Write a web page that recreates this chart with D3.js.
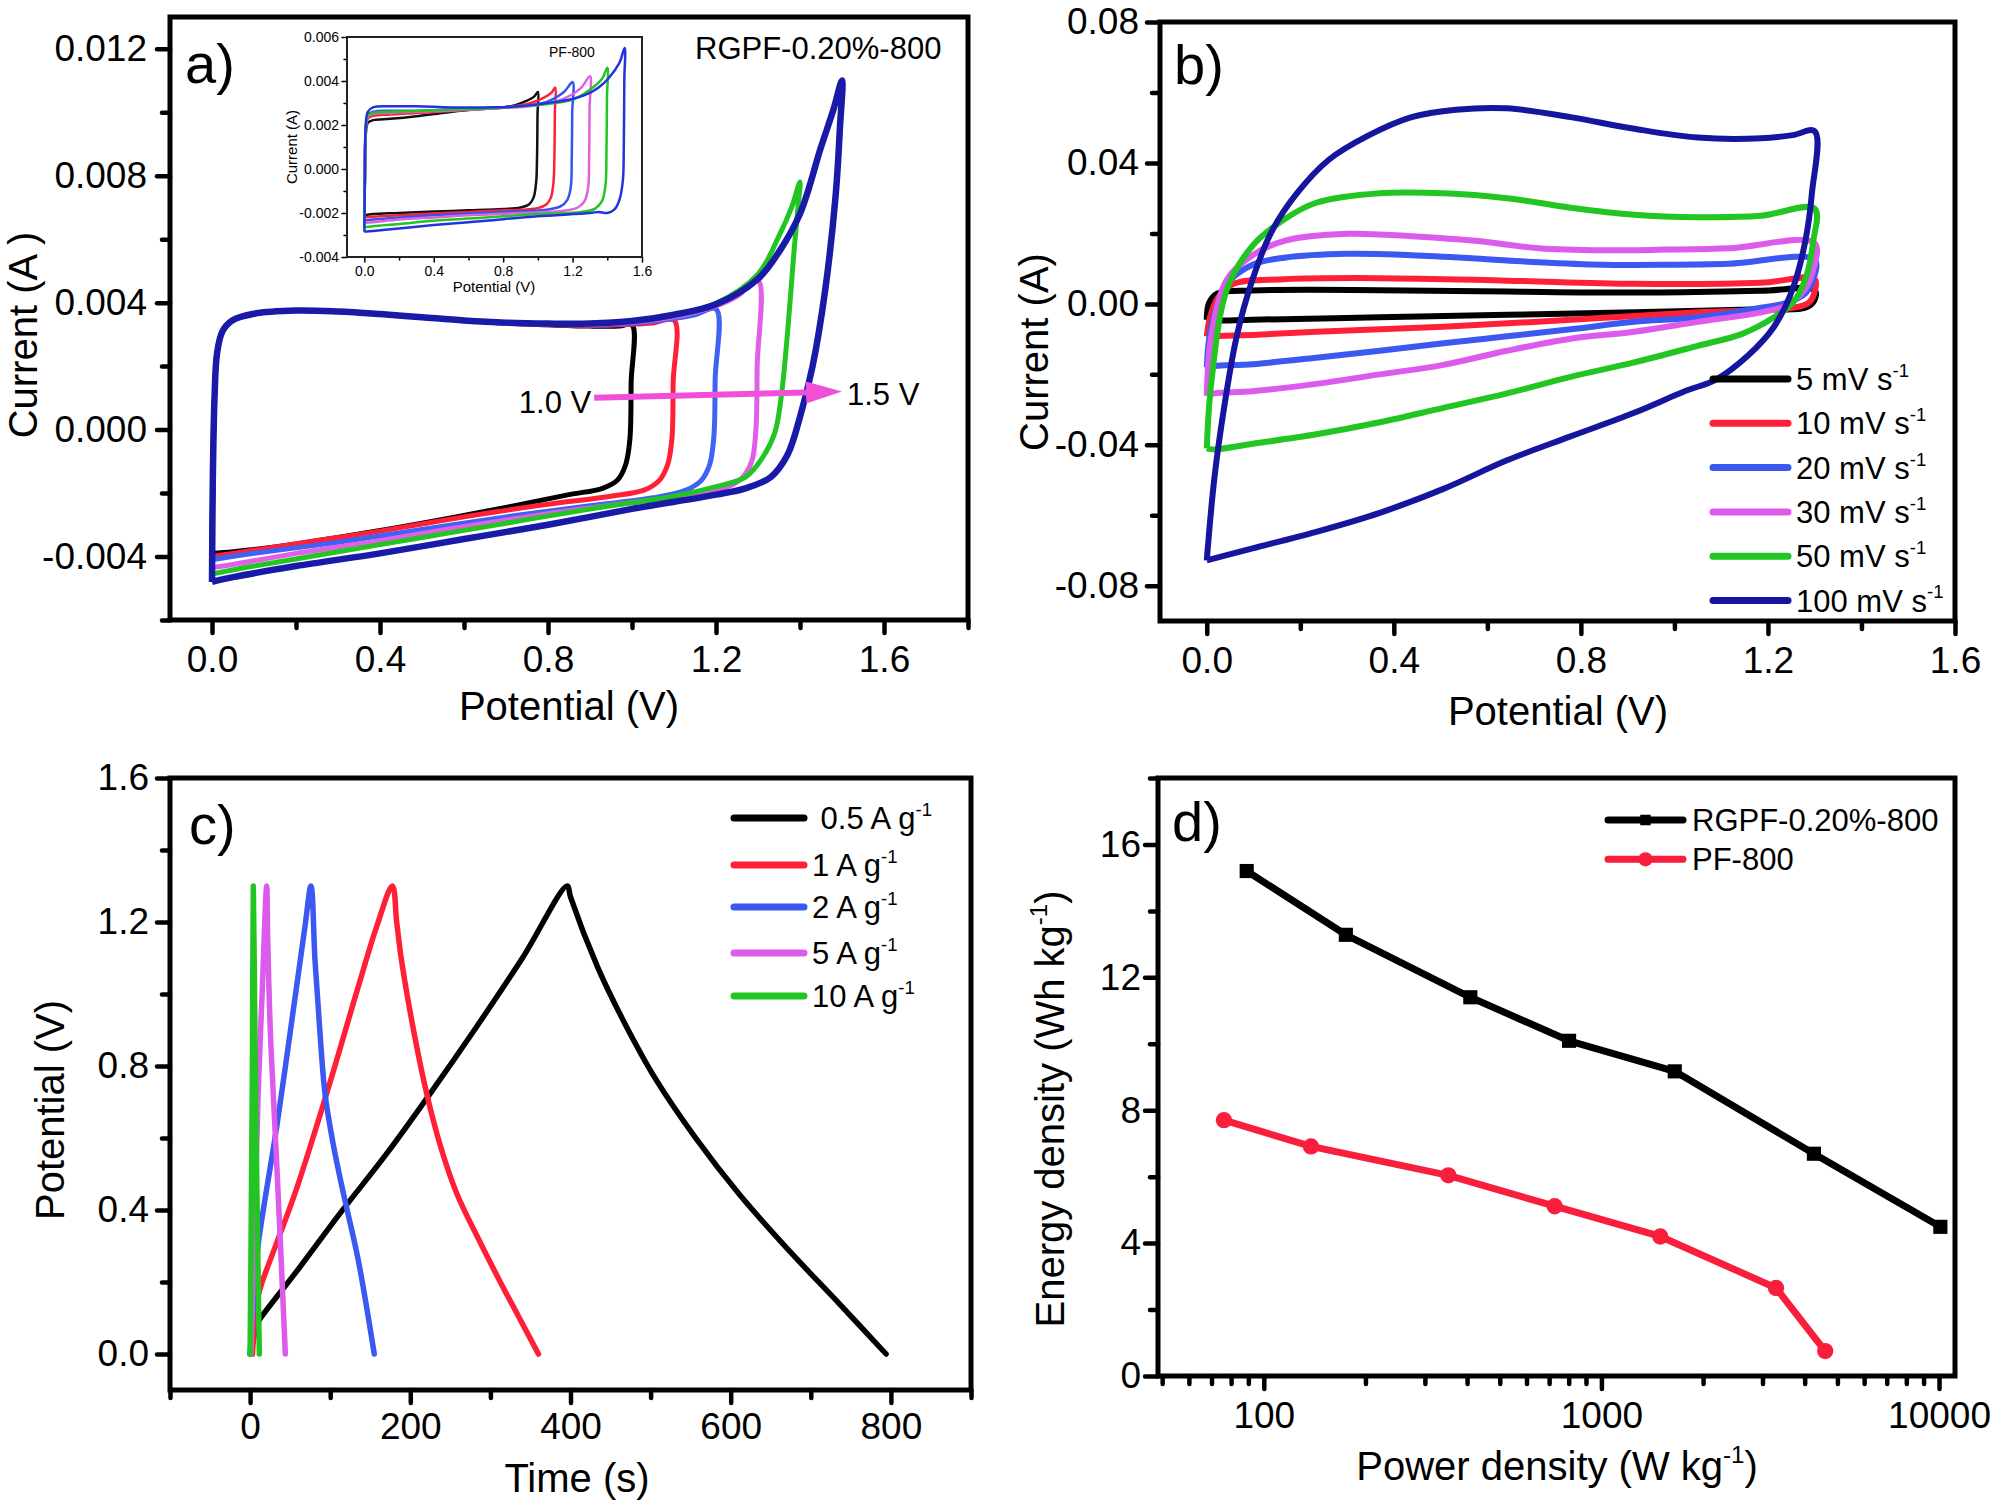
<!DOCTYPE html>
<html>
<head>
<meta charset="utf-8">
<script src="https://cdn.jsdelivr.net/npm/d3@7"></script>
<style>
  body { margin: 0; background: #fff; }
  text { font-family: "Liberation Sans", Arial, sans-serif; fill: #000; }
</style>
</head>
<body>
<script>
// ---------- data ----------
// panel a: CV loops, potential (V) vs current (mA), window 1.0 ... 1.5 V
const cvWindowNames = ["1.0 V", "1.1 V", "1.2 V", "1.3 V", "1.4 V", "1.5 V"];
const cvWindowColors = ["#000000", "#ff2038", "#3f62f4", "#e05ee8", "#22c522", "#1a1aa8"];
const cvWin10 = [[0,-3.9],[0.002,-1.5],[0.006,1.0],[0.012,2.4],[0.025,3.1],[0.05,3.45],[0.1,3.65],[0.2,3.75],[0.3,3.72],[0.4,3.64],[0.5,3.54],[0.6,3.44],[0.7,3.35],[0.8,3.3],[0.9,3.26],[0.97,3.26],[1.0,3.3],
  [0.998,1.5],[0.995,-0.3],[0.985,-1.1],[0.965,-1.6],[0.93,-1.85],[0.85,-2.05],[0.7,-2.45],[0.5,-2.95],[0.3,-3.4],[0.15,-3.7],[0.05,-3.85],[0,-3.9]];
const cvWin11 = [[0,-4.0],[0.002,-1.5],[0.006,1.0],[0.012,2.4],[0.025,3.1],[0.05,3.45],[0.1,3.65],[0.2,3.75],[0.3,3.72],[0.4,3.64],[0.5,3.54],[0.6,3.44],[0.7,3.35],[0.8,3.3],[0.9,3.28],[1.0,3.32],[1.05,3.36],[1.1,3.45],
  [1.098,1.5],[1.095,-0.3],[1.085,-1.1],[1.065,-1.6],[1.03,-1.9],[0.95,-2.1],[0.8,-2.35],[0.6,-2.75],[0.4,-3.2],[0.2,-3.6],[0.05,-3.9],[0,-4.0]];
const cvWin12 = [[0,-4.1],[0.002,-1.5],[0.006,1.0],[0.012,2.4],[0.025,3.1],[0.05,3.45],[0.1,3.65],[0.2,3.75],[0.3,3.72],[0.4,3.64],[0.5,3.54],[0.6,3.44],[0.7,3.36],[0.8,3.32],[0.9,3.3],[1.0,3.35],[1.1,3.5],[1.15,3.62],[1.2,3.8],
  [1.198,1.6],[1.195,-0.2],[1.185,-1.1],[1.165,-1.6],[1.13,-1.9],[1.05,-2.15],[0.9,-2.4],[0.7,-2.75],[0.5,-3.15],[0.3,-3.55],[0.1,-3.9],[0,-4.1]];
const cvWin13 = [[0,-4.35],[0.002,-1.5],[0.006,1.0],[0.012,2.4],[0.025,3.1],[0.05,3.45],[0.1,3.65],[0.2,3.75],[0.3,3.72],[0.4,3.64],[0.5,3.54],[0.6,3.44],[0.7,3.36],[0.8,3.33],[0.9,3.32],[1.0,3.38],[1.1,3.55],[1.2,3.9],[1.25,4.2],[1.3,4.7],
  [1.298,2.0],[1.295,0.0],[1.285,-1.0],[1.26,-1.55],[1.22,-1.85],[1.15,-2.05],[1.0,-2.3],[0.8,-2.65],[0.6,-3.05],[0.4,-3.5],[0.2,-3.9],[0.05,-4.25],[0,-4.35]];
const cvWin14 = [[0,-4.55],[0.002,-1.5],[0.006,1.0],[0.012,2.4],[0.025,3.1],[0.05,3.45],[0.1,3.65],[0.2,3.75],[0.3,3.72],[0.4,3.64],[0.5,3.54],[0.6,3.44],[0.7,3.37],[0.8,3.34],[0.9,3.34],[1.0,3.42],[1.1,3.6],[1.2,3.98],[1.3,4.9],[1.35,6.1],[1.38,7.0],[1.4,7.8],
  [1.395,7.0],[1.385,5.5],[1.37,3.0],[1.355,1.0],[1.34,-0.1],[1.31,-0.9],[1.27,-1.5],[1.2,-1.8],[1.1,-2.1],[0.9,-2.5],[0.7,-2.95],[0.5,-3.4],[0.3,-3.85],[0.1,-4.3],[0,-4.55]];
const cvWin15 = [[0,-4.8],[0.002,-1.5],[0.006,1.0],[0.012,2.4],[0.025,3.1],[0.05,3.45],[0.1,3.65],[0.2,3.75],[0.3,3.72],[0.4,3.64],[0.5,3.54],[0.6,3.44],[0.7,3.37],[0.8,3.34],[0.9,3.34],[1.0,3.42],[1.1,3.62],[1.2,3.95],[1.3,4.75],[1.35,5.6],[1.4,6.8],[1.45,8.9],[1.48,10.1],[1.5,11.0],
  [1.495,9.5],[1.485,7.4],[1.46,4.4],[1.43,2.0],[1.4,0.4],[1.37,-0.8],[1.33,-1.5],[1.27,-1.85],[1.2,-2.05],[1.0,-2.5],[0.8,-3.0],[0.6,-3.45],[0.4,-3.9],[0.2,-4.3],[0.05,-4.65],[0,-4.8]];
const cvWindowLoops = [cvWin10, cvWin11, cvWin12, cvWin13, cvWin14, cvWin15];
const cvWindowWidths = [5, 5, 5, 5, 5, 6.5];
// arrow annotation, in data units
const arrowFrom = [0.91, 1.0], arrowTo = [1.5, 1.2];

// inset of panel a: PF-800, potential (V) vs current (mA)
const insetColors = ["#111111", "#ff2038", "#3355ee", "#e060e0", "#22c522", "#2233dd"];
const inset10 = [[0,-2.1],[0.003,-0.5],[0.008,1.5],[0.02,2.1],[0.05,2.22],[0.15,2.28],[0.3,2.4],[0.45,2.55],[0.6,2.68],[0.7,2.74],[0.8,2.8],[0.87,2.9],[0.93,3.08],[0.98,3.3],[1.0,3.5],
  [0.998,2.5],[0.995,0.5],[0.99,-0.6],[0.975,-1.3],[0.95,-1.6],[0.9,-1.75],[0.8,-1.82],[0.6,-1.88],[0.4,-1.93],[0.2,-2.0],[0.05,-2.05],[0,-2.1]];
const inset11 = [[0,-2.2],[0.003,-0.5],[0.008,1.7],[0.02,2.3],[0.05,2.42],[0.15,2.48],[0.3,2.54],[0.5,2.64],[0.7,2.74],[0.85,2.84],[0.95,2.98],[1.03,3.22],[1.08,3.48],[1.1,3.7],
  [1.098,2.6],[1.095,0.5],[1.09,-0.6],[1.075,-1.3],[1.05,-1.6],[1.0,-1.78],[0.8,-1.88],[0.6,-1.95],[0.4,-2.02],[0.2,-2.1],[0.05,-2.17],[0,-2.2]];
const inset12 = [[0,-2.35],[0.003,-0.5],[0.008,1.8],[0.02,2.45],[0.05,2.6],[0.15,2.65],[0.3,2.65],[0.5,2.7],[0.7,2.75],[0.9,2.85],[1.05,3.05],[1.15,3.5],[1.2,3.95],
  [1.198,2.6],[1.195,0.4],[1.19,-0.8],[1.17,-1.4],[1.13,-1.7],[1.05,-1.85],[0.8,-1.95],[0.6,-2.02],[0.4,-2.1],[0.2,-2.2],[0.05,-2.3],[0,-2.35]];
const inset13 = [[0,-2.45],[0.003,-0.5],[0.008,1.8],[0.02,2.38],[0.05,2.5],[0.15,2.55],[0.3,2.6],[0.5,2.66],[0.7,2.74],[0.9,2.82],[1.0,2.9],[1.15,3.2],[1.25,3.7],[1.3,4.22],
  [1.298,2.8],[1.295,0.4],[1.29,-0.8],[1.27,-1.45],[1.23,-1.75],[1.15,-1.9],[0.9,-2.0],[0.6,-2.1],[0.4,-2.2],[0.2,-2.3],[0.05,-2.42],[0,-2.45]];
const inset14 = [[0,-2.65],[0.003,-0.5],[0.008,1.8],[0.02,2.42],[0.05,2.55],[0.15,2.6],[0.3,2.64],[0.5,2.7],[0.7,2.75],[0.9,2.85],[1.1,3.0],[1.2,3.15],[1.3,3.6],[1.37,4.1],[1.4,4.6],
  [1.398,3.2],[1.395,0.6],[1.39,-0.7],[1.37,-1.45],[1.33,-1.8],[1.25,-1.95],[1.0,-2.05],[0.7,-2.2],[0.4,-2.35],[0.2,-2.5],[0.05,-2.6],[0,-2.65]];
const inset15 = [[0,-2.85],[0.003,-0.5],[0.008,2.0],[0.02,2.6],[0.05,2.8],[0.15,2.85],[0.3,2.85],[0.5,2.8],[0.7,2.8],[0.9,2.85],[1.1,3.05],[1.2,3.18],[1.3,3.46],[1.35,3.7],[1.41,4.15],[1.47,4.83],[1.5,5.5],
  [1.498,4.0],[1.495,1.0],[1.49,-0.5],[1.47,-1.4],[1.44,-1.85],[1.4,-2.0],[1.35,-1.95],[1.3,-2.0],[1.0,-2.15],[0.7,-2.35],[0.4,-2.55],[0.2,-2.7],[0.05,-2.82],[0,-2.85]];
const insetLoops = [inset10, inset11, inset12, inset13, inset14, inset15];

// panel b: CV at scan rates, potential (V) vs current (mA)
const scanRates = ["5 mV s", "10 mV s", "20 mV s", "30 mV s", "50 mV s", "100 mV s"];
const scanColors = ["#000000", "#ff2038", "#3b58f0", "#dc5aec", "#22c522", "#15159e"];
const cvRate5 = [[0,-4.5],[0.005,0.3],[0.023,3],[0.098,3.8],[0.37,3.9],[0.642,3.5],[0.914,3.2],[1.185,3.7],[1.3,3.9],
  [1.299,0.9],[1.28,-1.1],[1.185,-1.5],[0.914,-2.4],[0.642,-3.1],[0.37,-3.8],[0.098,-4.5],[0.01,-4.7],[0,-4.5]];
const cvRate10 = [[0,-9.2],[0.007,-3.8],[0.023,1.6],[0.057,5.7],[0.166,7],[0.37,7.3],[0.642,6.6],[0.914,5.7],[1.185,6],[1.3,7],
  [1.299,3],[1.287,0.3],[1.253,-1.1],[1.05,-2.4],[0.778,-4.5],[0.506,-6.5],[0.234,-7.9],[0.098,-8.8],[0.01,-9.2],[0,-9.2]];
const cvRate20 = [[0,-18],[0.0095,-6.5],[0.0435,5.7],[0.098,11.1],[0.166,13.1],[0.302,14.2],[0.438,13.8],[0.574,12.9],[0.71,11.8],[0.846,11.1],[0.982,11.1],[1.118,11.4],[1.3,12.5],
  [1.297,7],[1.28,3],[1.24,0.3],[1.185,-1.1],[1.05,-3.8],[0.914,-5.1],[0.778,-7.2],[0.642,-9.2],[0.506,-11.2],[0.37,-13.3],[0.234,-15.3],[0.098,-17.1],[0.016,-17.6],[0,-18]];
const cvRate30 = [[0,-26.1],[0.0095,-9.2],[0.0435,7],[0.098,13.8],[0.166,17.9],[0.302,19.9],[0.438,19.2],[0.574,17.9],[0.71,15.8],[0.846,15.2],[0.982,15.4],[1.118,15.8],[1.3,17.2],
  [1.297,9.7],[1.28,4.3],[1.24,-0.4],[1.185,-2.4],[1.05,-5.1],[0.914,-7.9],[0.778,-9.9],[0.642,-13.3],[0.506,-17.3],[0.37,-20],[0.234,-22.7],[0.098,-24.8],[0.016,-25.4],[0,-26.1]];
const cvRate50 = [[0,-41],[0.0095,-22.7],[0.0435,4.3],[0.098,16.5],[0.166,24],[0.234,28.7],[0.37,31.4],[0.506,31.4],[0.642,30],[0.778,27.3],[0.914,25.3],[1.05,24.6],[1.185,25],[1.3,27],
  [1.297,17.9],[1.28,7],[1.253,0.3],[1.213,-3.8],[1.145,-8.5],[1.05,-11.9],[0.914,-16.6],[0.778,-20.7],[0.642,-25.4],[0.506,-29.5],[0.37,-33.6],[0.234,-37],[0.098,-39.7],[0.016,-41.3],[0,-41]];
const cvRate100 = [[0,-72.8],[0.016,-49.8],[0.037,-29.5],[0.064,-9.2],[0.098,7],[0.139,20.6],[0.193,31.4],[0.261,40.9],[0.343,47.6],[0.438,53],[0.533,55.1],[0.642,55.5],[0.778,53],[0.914,49.7],[1.05,47.2],[1.185,47],[1.253,47.9],[1.3,49],
  [1.294,31.4],[1.28,17.9],[1.253,4.3],[1.213,-6.5],[1.158,-14.6],[1.09,-21.4],[1.022,-24.8],[0.914,-30.9],[0.778,-37.6],[0.642,-44.4],[0.506,-52.5],[0.37,-59.3],[0.234,-64.7],[0.098,-69.4],[0,-72.8]];
const scanLoops = [cvRate5, cvRate10, cvRate20, cvRate30, cvRate50, cvRate100];

// panel c: charge/discharge, time (s) vs potential (V)
const currentNames = [" 0.5 A g", "1 A g", "2 A g", "5 A g", "10 A g"];
const currentColors = ["#000000", "#ff2038", "#3b58f0", "#dc5aec", "#22c522"];
const gcd05 = [[0,0],[4,0.04],[8,0.08],[14.5,0.104],[60,0.235],[112,0.39],[170,0.555],[225,0.724],[280,0.9],[340,1.1],[396,1.3],
  [400,1.27],[434,1.074],[466,0.926],[506,0.765],[555,0.604],[611,0.443],[675,0.282],[732,0.148],[794,0]];
const gcd1 = [[3,0],[6,0.1],[10,0.16],[14.5,0.196],[56,0.446],[95.6,0.724],[135,1.02],[158,1.187],[177.6,1.3],
  [183,1.2],[189,1.094],[204,0.9],[220.4,0.724],[238,0.575],[258,0.446],[285,0.32],[310,0.21],[335,0.105],[360,0]];
const gcd2 = [[0,0],[3,0.1],[6,0.2],[10.3,0.307],[33.2,0.631],[58,1.02],[68.5,1.187],[76,1.3],
  [81,1.094],[87,0.9],[93.5,0.724],[104,0.58],[116.5,0.446],[135,0.261],[155,0]];
const gcd5 = [[1,0],[5,0.3],[10,0.72],[15,1.0],[20.7,1.3],[22,1.15],[25,0.91],[29,0.72],[33,0.54],[38,0.3],[44,0]];
const gcd10 = [[0,0],[1.5,0.4],[3,0.85],[4,1.3],[6,0.9],[8.5,0.45],[11.5,0]];
const gcdCurves = [gcd05, gcd1, gcd2, gcd5, gcd10];

// panel d: Ragone plot
const ragoneNames = ["RGPF-0.20%-800", "PF-800"];
const powerRGPF = [89, 175, 409, 802, 1649, 4260, 10090];
const energyRGPF = [15.2, 13.28, 11.4, 10.09, 9.17, 6.69, 4.49];
const powerPF = [76.2, 138, 352, 727, 1494, 3289, 4600];
const energyPF = [7.70, 6.91, 6.04, 5.11, 4.20, 2.65, 0.75];

// ---------- drawing ----------
const svg = d3.select("body").append("svg")
  .attr("width", 1995).attr("height", 1500);

const tickFont = 37, titleFont = 40, legendFont = 31;
// plain hyphen for negative numbers, like the original figure
const loc = d3.formatLocale({ decimal: ".", thousands: ",", grouping: [3], currency: ["", ""], minus: "-" });

function range(a, b, step) {
  return d3.range(Math.round((b - a) / step) + 1).map(i => +(a + i * step).toFixed(6));
}

function styleAxis(sel, width, fontSize) {
  sel.select(".domain").remove();
  sel.selectAll(".tick line").attr("stroke", "#000").attr("stroke-width", width).attr("stroke-linecap", "round");
  sel.selectAll(".tick text").attr("fill", "#000").style("font-size", fontSize + "px")
    .style("font-family", '"Liberation Sans", Arial, sans-serif');
}

function makePanel(o) {
  let x = (o.xlog ? d3.scaleLog() : d3.scaleLinear()).domain(o.xd).range([o.l, o.r]);
  let y = d3.scaleLinear().domain(o.yd).range([o.b, o.t]);
  let g = svg.append("g");
  let fs = o.font || tickFont, tw = o.tickWidth || 4.5;

  // minor ticks
  g.append("g").attr("transform", `translate(0,${o.b})`)
    .call(d3.axisBottom(x).tickValues(o.xMinor).tickSize(o.minor).tickFormat(""))
    .call(s => styleAxis(s, tw, fs));
  g.append("g").attr("transform", `translate(${o.l},0)`)
    .call(d3.axisLeft(y).tickValues(o.yMinor).tickSize(o.minor).tickFormat(""))
    .call(s => styleAxis(s, tw, fs));
  // major ticks + labels
  g.append("g").attr("transform", `translate(0,${o.b})`)
    .call(d3.axisBottom(x).tickValues(o.xMajor).tickSize(o.major).tickPadding(o.xPad).tickFormat(o.xFmt))
    .call(s => styleAxis(s, tw, fs));
  g.append("g").attr("transform", `translate(${o.l},0)`)
    .call(d3.axisLeft(y).tickValues(o.yMajor).tickSize(o.major).tickPadding(o.yPad).tickFormat(o.yFmt))
    .call(s => styleAxis(s, tw, fs));

  let plot = g.append("g");
  g.append("rect")
    .attr("x", o.l).attr("y", o.t)
    .attr("width", o.r - o.l).attr("height", o.b - o.t)
    .attr("fill", "none").attr("stroke", o.frameColor || "#000").attr("stroke-width", o.frame);
  return { x, y, g, plot };
}

// text with a "-1" superscript: parts = [[text, isSup], ...]
function richText(parent, x, y, parts, size, anchor, rotate) {
  let t = parent.append("text")
    .attr("text-anchor", anchor || "start")
    .style("font-size", size + "px")
    .style("white-space", "pre");
  if (rotate) t.attr("transform", `translate(${x},${y}) rotate(-90)`);
  else t.attr("x", x).attr("y", y);
  let raised = false;
  parts.forEach(p => {
    let sp = t.append("tspan").text(p[0]);
    if (p[1] && !raised) { sp.attr("dy", -size * 0.42).style("font-size", (size * 0.6) + "px"); raised = true; }
    else if (!p[1] && raised) { sp.attr("dy", size * 0.42); raised = false; }
  });
  return t;
}

function label(parent, x, y, txt, size, anchor, rotate) {
  return richText(parent, x, y, [[txt, false]], size, anchor, rotate);
}

const fmtA = d => loc.format(".3f")(d / 1000);
const fmtB = d => loc.format(".2f")(d / 1000);
const fmt1 = loc.format(".1f");

const loopLine = (x, y) => d3.line()
  .x(d => x(d[0])).y(d => y(d[1]))
  .curve(d3.curveCatmullRom.alpha(0.5));

// ===== panel a =====
const A = makePanel({
  l: 170, r: 968, t: 17, b: 620,
  xd: [-0.1, 1.8], yd: [-6, 13],
  xMajor: range(0, 1.6, 0.4), xMinor: range(0.2, 1.8, 0.4),
  yMajor: range(-4, 12, 4), yMinor: range(-6, 10, 4),
  major: 13, minor: 8, xPad: 13, yPad: 10, frame: 5,
  xFmt: fmt1, yFmt: fmtA
});
cvWindowLoops.forEach((loop, i) => {
  A.plot.append("path").datum(loop)
    .attr("fill", "none").attr("stroke", cvWindowColors[i])
    .attr("stroke-width", cvWindowWidths[i]).attr("stroke-linejoin", "round")
    .attr("d", loopLine(A.x, A.y));
});
// arrow 1.0 V -> 1.5 V
{
  let x0 = A.x(arrowFrom[0]), y0 = A.y(arrowFrom[1]);
  let x1 = A.x(arrowTo[0]), y1 = A.y(arrowTo[1]);
  let ang = Math.atan2(y1 - y0, x1 - x0), len = 36, half = 11;
  let bx = x1 - len * Math.cos(ang), by = y1 - len * Math.sin(ang);
  A.plot.append("line").attr("x1", x0).attr("y1", y0).attr("x2", bx).attr("y2", by)
    .attr("stroke", "#f050d8").attr("stroke-width", 6);
  A.plot.append("polygon")
    .attr("points", [[x1, y1],
      [bx + half * Math.sin(ang), by - half * Math.cos(ang)],
      [bx - half * Math.sin(ang), by + half * Math.cos(ang)]].map(p => p.join(",")).join(" "))
    .attr("fill", "#f050d8");
  label(A.g, x0 - 3, y0 + 15, cvWindowNames[0], 31, "end");
  label(A.g, x1 + 5, y1 + 14, cvWindowNames[5], 31, "start");
}
label(A.g, 695, 59, "RGPF-0.20%-800", 31, "start");
label(A.g, 185, 83, "a)", 56, "start");
label(A.g, 569, 720, "Potential (V)", titleFont, "middle");
label(A.g, 37, 335, "Current (A )", titleFont, "middle", true);

// inset
svg.append("rect").attr("x", 347).attr("y", 37).attr("width", 295).attr("height", 220).attr("fill", "#fff");
const I = makePanel({
  l: 347, r: 642, t: 37, b: 257,
  xd: [-0.1, 1.6], yd: [-4, 6],
  xMajor: range(0, 1.6, 0.4), xMinor: range(0.2, 1.4, 0.4),
  yMajor: range(-4, 6, 2), yMinor: range(-3, 5, 2),
  major: 5, minor: 3, xPad: 4, yPad: 3, frame: 2, font: 14, tickWidth: 1.5,
  frameColor: "#222", xFmt: fmt1, yFmt: fmtA
});
I.g.selectAll(".tick text").attr("fill", "#222");
insetLoops.forEach((loop, i) => {
  I.plot.append("path").datum(loop)
    .attr("fill", "none").attr("stroke", insetColors[i])
    .attr("stroke-width", 2.5).attr("stroke-linejoin", "round")
    .attr("d", loopLine(I.x, I.y));
});
label(I.g, 549, 57, "PF-800", 14, "start");
label(I.g, 494, 292, "Potential (V)", 15, "middle");
label(I.g, 297, 147, "Current (A)", 15, "middle", true);

// ===== panel b =====
const B = makePanel({
  l: 1160, r: 1955, t: 22, b: 621,
  xd: [-0.1, 1.6], yd: [-90, 80],
  xMajor: range(0, 1.6, 0.4), xMinor: range(0.2, 1.4, 0.4),
  yMajor: range(-80, 80, 40), yMinor: range(-60, 60, 40),
  major: 13, minor: 8, xPad: 13, yPad: 8, frame: 5,
  xFmt: fmt1, yFmt: fmtB
});
scanLoops.forEach((loop, i) => {
  B.plot.append("path").datum(loop)
    .attr("fill", "none").attr("stroke", scanColors[i])
    .attr("stroke-width", 6).attr("stroke-linejoin", "round")
    .attr("d", loopLine(B.x, B.y));
});
const legB = B.g.append("g");
scanRates.forEach((name, i) => {
  let yy = 379 + i * 44.3;
  legB.append("line").attr("x1", 1713).attr("x2", 1788).attr("y1", yy).attr("y2", yy)
    .attr("stroke", scanColors[i]).attr("stroke-width", 7).attr("stroke-linecap", "round");
  richText(legB, 1796, yy + 11, [[name, false], ["-1", true]], legendFont, "start");
});
label(B.g, 1174, 84, "b)", 56, "start");
label(B.g, 1558, 725, "Potential (V)", titleFont, "middle");
label(B.g, 1048, 352, "Current (A)", titleFont, "middle", true);

// ===== panel c =====
const C = makePanel({
  l: 170, r: 971, t: 778, b: 1390,
  xd: [-100, 900], yd: [-0.1, 1.6],
  xMajor: range(0, 800, 200), xMinor: range(-100, 900, 200),
  yMajor: range(0, 1.6, 0.4), yMinor: range(0.2, 1.4, 0.4),
  major: 13, minor: 8, xPad: 10, yPad: 8, frame: 5,
  xFmt: loc.format("d"), yFmt: fmt1
});
gcdCurves.forEach((c, i) => {
  C.plot.append("path").datum(c)
    .attr("fill", "none").attr("stroke", currentColors[i])
    .attr("stroke-width", 5.5).attr("stroke-linejoin", "round").attr("stroke-linecap", "round")
    .attr("d", d3.line().x(d => C.x(d[0])).y(d => C.y(d[1])).curve(d3.curveCatmullRom.alpha(0.5)));
});
const legC = C.g.append("g");
const legCRows = [818, 865, 907, 953, 996];
currentNames.forEach((name, i) => {
  let yy = legCRows[i];
  legC.append("line").attr("x1", 734).attr("x2", 804).attr("y1", yy).attr("y2", yy)
    .attr("stroke", currentColors[i]).attr("stroke-width", 7).attr("stroke-linecap", "round");
  richText(legC, 812, yy + 11, [[name, false], ["-1", true]], legendFont, "start");
});
label(C.g, 189, 844, "c)", 56, "start");
label(C.g, 577, 1492, "Time (s)", titleFont, "middle");
label(C.g, 64, 1110, "Potential (V)", titleFont, "middle", true);

// ===== panel d =====
const logMinor = [50, 60, 70, 80, 90, 200, 300, 400, 500, 600, 700, 800, 900,
  2000, 3000, 4000, 5000, 6000, 7000, 8000, 9000];
const D = makePanel({
  l: 1158, r: 1955, t: 778, b: 1376, xlog: true,
  xd: [48.6, 11150], yd: [0, 18],
  xMajor: [100, 1000, 10000], xMinor: logMinor,
  yMajor: range(0, 16, 4), yMinor: range(2, 18, 4),
  major: 13, minor: 8, xPad: 13, yPad: 4, frame: 5,
  xFmt: loc.format("d"), yFmt: loc.format("d")
});
const ragone = [
  { p: powerRGPF, e: energyRGPF, color: "#000000", marker: "square" },
  { p: powerPF, e: energyPF, color: "#f81e3c", marker: "circle" }
];
ragone.forEach(s => {
  let pts = s.p.map((p, i) => [p, s.e[i]]);
  D.plot.append("path").datum(pts)
    .attr("fill", "none").attr("stroke", s.color).attr("stroke-width", 7).attr("stroke-linejoin", "round")
    .attr("d", d3.line().x(d => D.x(d[0])).y(d => D.y(d[1])));
  D.plot.selectAll(null).data(pts).enter().append("path")
    .attr("transform", d => `translate(${D.x(d[0])},${D.y(d[1])})`)
    .attr("d", d3.symbol().type(s.marker === "square" ? d3.symbolSquare : d3.symbolCircle).size(s.marker === "square" ? 200 : 210))
    .attr("fill", s.color);
});
const legD = D.g.append("g");
ragone.forEach((s, i) => {
  let yy = 820 + i * 39.3;
  legD.append("line").attr("x1", 1608).attr("x2", 1683).attr("y1", yy).attr("y2", yy)
    .attr("stroke", s.color).attr("stroke-width", 7).attr("stroke-linecap", "round");
  legD.append("path").attr("transform", `translate(1645.5,${yy})`)
    .attr("d", d3.symbol().type(s.marker === "square" ? d3.symbolSquare : d3.symbolCircle).size(s.marker === "square" ? 110 : 160))
    .attr("fill", s.color);
  label(legD, 1692, yy + 11, ragoneNames[i], legendFont, "start");
});
label(D.g, 1172, 841, "d)", 56, "start");
richText(D.g, 1557, 1480, [["Power density (W kg", false], ["-1", true], [")", false]], titleFont, "middle");
richText(D.g, 1064, 1109, [["Energy density (Wh kg", false], ["-1", true], [")", false]], titleFont, "middle", true);
</script>
</body>
</html>
